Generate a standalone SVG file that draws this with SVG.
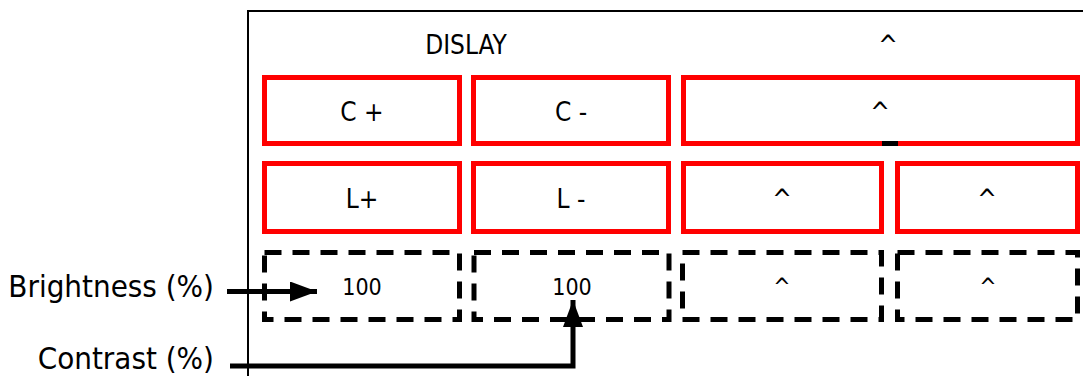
<svg xmlns="http://www.w3.org/2000/svg" width="1083" height="376" viewBox="0 0 1083 376">
<defs>
<style>
.t{font-family:"DejaVu Sans Condensed","DejaVu Sans",sans-serif;fill:#000;text-anchor:middle}
.m{font-size:26px}
.s{font-size:23px}
.l{font-size:31px;text-anchor:end}
.red{fill:none;stroke:#ff0000;stroke-width:5}
.dash{fill:none;stroke:#000;stroke-width:5;stroke-dasharray:17 11}
.con{fill:none;stroke:#000;stroke-width:5}
</style>
<marker id="ah" markerUnits="userSpaceOnUse" markerWidth="28" markerHeight="20" refX="27" refY="10" orient="auto">
<path d="M0,0 L27,10 L0,20 Z" fill="#000"/>
</marker>
</defs>
<rect width="1083" height="376" fill="#fff"/>
<g id="frame">
<rect x="248" y="11" width="900" height="400" fill="none" stroke="#000" stroke-width="2"/>
</g>
<g id="header">
<text class="t m" x="466" y="54">DISLAY</text>
<text class="t m" x="888" y="54">^</text>
</g>
<g id="c-plus"><rect class="red" x="264.5" y="77.5" width="195" height="66"/><text class="t m" x="362" y="121">C +</text></g>
<g id="c-minus"><rect class="red" x="473.5" y="77.5" width="195" height="66"/><text class="t m" x="571" y="121">C -</text></g>
<g id="r1c3"><rect class="red" x="683.5" y="77.5" width="394" height="66"/><rect x="882" y="141" width="16" height="5" fill="#000"/><text class="t m" x="880" y="121">^</text></g>
<g id="l-plus"><rect class="red" x="264.5" y="163.5" width="195" height="68"/><text class="t m" x="362" y="208">L+</text></g>
<g id="l-minus"><rect class="red" x="473.5" y="163.5" width="195" height="68"/><text class="t m" x="571" y="208">L -</text></g>
<g id="r2c3"><rect class="red" x="683.5" y="163.5" width="198" height="68"/><text class="t m" x="782" y="208">^</text></g>
<g id="r2c4"><rect class="red" x="897.5" y="163.5" width="180" height="68"/><text class="t m" x="987" y="208">^</text></g>
<g id="brightness"><rect class="dash" x="264.5" y="252.5" width="195" height="67"/><text class="t s" x="362" y="295">100</text></g>
<g id="contrast"><rect class="dash" x="474" y="252.5" width="195" height="67"/><text class="t s" x="572" y="295">100</text></g>
<g id="r3c3"><rect class="dash" x="682.5" y="252.5" width="199" height="67"/><text class="t s" x="782" y="295">^</text></g>
<g id="r3c4"><rect class="dash" x="897.5" y="252.5" width="180" height="67"/><text class="t s" x="988" y="295">^</text></g>
<g id="label-brightness"><text class="t l" x="214" y="297">Brightness (%)</text></g>
<g id="label-contrast"><text class="t l" x="214" y="369">Contrast (%)</text></g>
<g id="connectors">
<path class="con" d="M227,291.5 L317,291.5" marker-end="url(#ah)"/>
<path class="con" d="M230,366 L573,366 L573,300" marker-end="url(#ah)"/>
</g>
</svg>
